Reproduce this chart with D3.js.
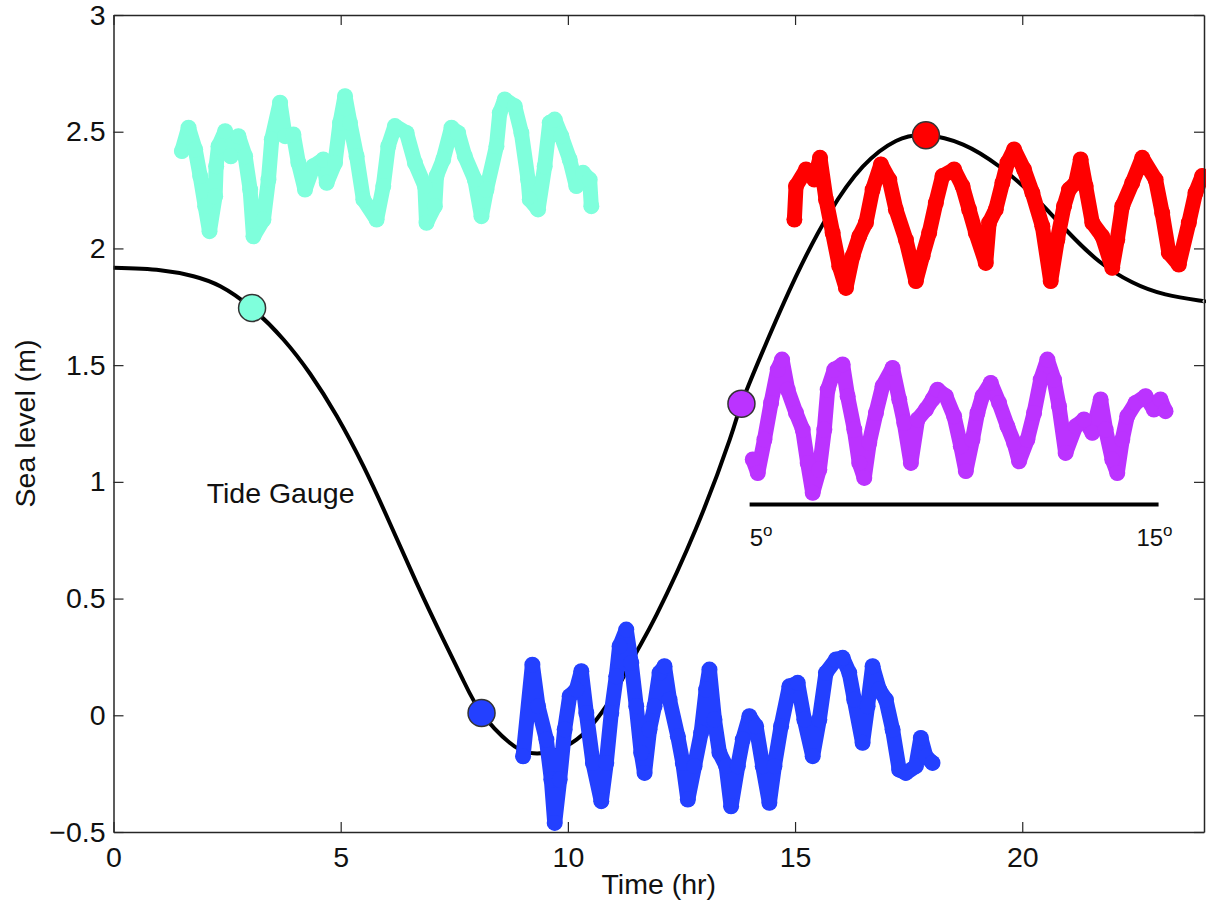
<!DOCTYPE html>
<html><head><meta charset="utf-8">
<script src="https://cdn.jsdelivr.net/npm/d3@7"></script>
<style>
html,body{margin:0;padding:0;background:#fff;}
svg{display:block;font-family:"Liberation Sans",Arial,Helvetica,sans-serif;}
</style></head>
<body>
<svg id="chart" width="1206" height="905"></svg>
<script>
// ---------------- data ----------------
const xTicks = [0, 5, 10, 15, 20];
const xTickLabels = ["0", "5", "10", "15", "20"];
const yTicks = [-0.5, 0, 0.5, 1, 1.5, 2, 2.5, 3];
const yTickLabels = ["\u22120.5", "0", "0.5", "1", "1.5", "2", "2.5", "3"];

const tideTime  = [0, 1.03, 1.76, 2.35, 3.04, 3.74, 4.33, 4.91, 5.50, 6.08, 6.67, 7.26, 7.69, 8.10, 8.72, 9.16, 9.67, 10.19, 10.63, 11.07, 11.50, 11.95, 12.82, 13.56, 13.81, 14.29, 15.02, 15.75, 16.49, 17.22, 17.88, 18.70, 19.49, 20.22, 20.96, 21.69, 22.42, 23.15, 23.89, 24];
const tideLevel = [1.917, 1.907, 1.881, 1.838, 1.745, 1.610, 1.462, 1.283, 1.067, 0.824, 0.567, 0.324, 0.153, 0.010, -0.118, -0.161, -0.154, -0.104, -0.018, 0.110, 0.267, 0.430, 0.800, 1.180, 1.330, 1.560, 1.880, 2.150, 2.350, 2.460, 2.485, 2.445, 2.352, 2.230, 2.080, 1.945, 1.855, 1.803, 1.777, 1.774];

const gaugeTime  = [3.05, 8.10, 13.82, 17.88];
const gaugeLevel = [1.745, 0.010, 1.335, 2.485];

const cyanTime  = [1.505, 1.651, 1.798, 1.908, 2.018, 2.113, 2.237, 2.259, 2.311, 2.457, 2.582, 2.750, 2.897, 3.007, 3.080, 3.300, 3.410, 3.483, 3.666, 3.776, 3.959, 4.069, 4.215, 4.398, 4.618, 4.692, 4.875, 4.985, 5.095, 5.204, 5.351, 5.498, 5.791, 5.937, 6.047, 6.193, 6.450, 6.633, 6.853, 6.889, 7.072, 7.109, 7.256, 7.439, 7.585, 7.732, 7.952, 8.098, 8.208, 8.428, 8.501, 8.611, 8.831, 8.977, 9.124, 9.161, 9.344, 9.490, 9.600, 9.710, 9.857, 10.040, 10.186, 10.333, 10.479, 10.516];
const cyanLevel = [2.417, 2.517, 2.424, 2.310, 2.181, 2.074, 2.224, 2.352, 2.438, 2.502, 2.395, 2.481, 2.395, 2.252, 2.052, 2.124, 2.295, 2.467, 2.624, 2.481, 2.488, 2.367, 2.252, 2.352, 2.381, 2.281, 2.367, 2.538, 2.652, 2.538, 2.395, 2.210, 2.124, 2.267, 2.438, 2.524, 2.495, 2.367, 2.267, 2.110, 2.181, 2.310, 2.381, 2.517, 2.495, 2.395, 2.295, 2.138, 2.252, 2.438, 2.581, 2.638, 2.609, 2.495, 2.295, 2.210, 2.167, 2.352, 2.538, 2.552, 2.481, 2.381, 2.267, 2.324, 2.295, 2.181];

const blueTime  = [9.014, 9.219, 9.343, 9.527, 9.636, 9.710, 9.820, 9.929, 10.039, 10.186, 10.296, 10.406, 10.552, 10.735, 10.845, 10.955, 11.065, 11.138, 11.285, 11.395, 11.505, 11.614, 11.688, 11.798, 11.907, 12.017, 12.127, 12.237, 12.420, 12.530, 12.640, 12.787, 12.933, 13.043, 13.116, 13.226, 13.336, 13.483, 13.592, 13.739, 13.849, 13.995, 14.142, 14.289, 14.435, 14.545, 14.692, 14.875, 15.058, 15.204, 15.388, 15.534, 15.680, 15.900, 16.047, 16.193, 16.303, 16.486, 16.596, 16.706, 16.853, 16.999, 17.146, 17.292, 17.438, 17.658, 17.768, 17.878, 18.025];
const blueLevel = [-0.176, 0.217, 0.039, -0.104, -0.275, -0.461, -0.275, -0.061, 0.082, 0.110, 0.189, 0.010, -0.204, -0.368, -0.204, 0.010, 0.167, 0.296, 0.367, 0.224, 0.039, -0.161, -0.247, -0.061, 0.039, 0.182, 0.210, 0.067, -0.090, -0.204, -0.361, -0.218, -0.075, 0.110, 0.196, -0.018, -0.161, -0.218, -0.390, -0.218, -0.104, -0.004, -0.047, -0.218, -0.375, -0.218, -0.047, 0.124, 0.139, -0.018, -0.175, -0.018, 0.182, 0.239, 0.246, 0.182, 0.067, -0.118, 0.039, 0.210, 0.110, 0.067, -0.061, -0.233, -0.247, -0.218, -0.097, -0.176, -0.204];

const purpleTime  = [14.069, 14.179, 14.326, 14.472, 14.619, 14.714, 14.838, 15.021, 15.168, 15.278, 15.388, 15.534, 15.644, 15.718, 15.864, 16.047, 16.157, 16.304, 16.413, 16.523, 16.633, 16.780, 16.926, 17.146, 17.293, 17.403, 17.549, 17.696, 17.879, 18.025, 18.135, 18.318, 18.501, 18.648, 18.758, 18.904, 19.014, 19.124, 19.307, 19.490, 19.674, 19.820, 19.930, 20.113, 20.260, 20.406, 20.553, 20.699, 20.809, 20.955, 21.175, 21.358, 21.542, 21.725, 21.835, 21.981, 22.091, 22.201, 22.311, 22.494, 22.714, 22.897, 23.043, 23.153];
const purpleLevel = [1.096, 1.038, 1.181, 1.338, 1.481, 1.524, 1.395, 1.295, 1.224, 1.081, 0.953, 1.053, 1.224, 1.395, 1.481, 1.503, 1.367, 1.224, 1.081, 1.017, 1.167, 1.295, 1.410, 1.488, 1.353, 1.253, 1.081, 1.267, 1.310, 1.353, 1.395, 1.367, 1.281, 1.153, 1.046, 1.181, 1.295, 1.367, 1.424, 1.338, 1.238, 1.167, 1.088, 1.181, 1.295, 1.438, 1.524, 1.438, 1.324, 1.124, 1.238, 1.267, 1.210, 1.353, 1.224, 1.096, 1.038, 1.181, 1.281, 1.338, 1.367, 1.310, 1.353, 1.303];

const redTime  = [14.985, 15.021, 15.241, 15.424, 15.549, 15.681, 15.827, 15.974, 16.120, 16.267, 16.413, 16.560, 16.707, 16.890, 17.073, 17.219, 17.439, 17.659, 17.805, 17.952, 18.098, 18.245, 18.501, 18.685, 18.831, 18.978, 19.197, 19.271, 19.417, 19.564, 19.674, 19.820, 20.040, 20.223, 20.443, 20.626, 20.773, 20.919, 21.029, 21.175, 21.285, 21.395, 21.542, 21.761, 21.981, 22.091, 22.201, 22.421, 22.641, 22.934, 23.080, 23.227, 23.446, 23.666, 23.813, 23.959];
const redLevel = [2.124, 2.267, 2.338, 2.295, 2.388, 2.210, 2.067, 1.924, 1.831, 1.967, 2.052, 2.110, 2.252, 2.360, 2.295, 2.167, 2.038, 1.860, 1.967, 2.067, 2.195, 2.310, 2.338, 2.267, 2.167, 2.067, 1.938, 2.110, 2.167, 2.281, 2.367, 2.424, 2.338, 2.238, 2.095, 1.860, 2.038, 2.181, 2.252, 2.281, 2.381, 2.267, 2.110, 2.052, 1.917, 2.038, 2.181, 2.281, 2.388, 2.295, 2.152, 1.981, 1.931, 2.110, 2.238, 2.310];

// scale bar (time range in hr, level) and labels
const barTime = [14.0, 23.0];
const barLevel = 0.903;
const barLabels = ["5", "15"];
const labelText = "Tide Gauge";
const labelPos = [2.05, 0.911];

// ---------------- layout ----------------
const svg = d3.select("#chart");
const m = {left: 113.5, right: 1204, top: 15, bottom: 832};
const x = d3.scaleLinear().domain([0, 24]).range([m.left, m.right]);
const y = d3.scaleLinear().domain([-0.5, 3]).range([m.bottom, m.top]);

const colors = {cyan: "#7fffdc", blue: "#2340ff", purple: "#bb33ff", red: "#ff0000"};
const FS = 28.5;
const axisColor = "#262626";

const zip = (a, b) => a.map((v, i) => [v, b[i]]);

// tide curve
const tideLine = d3.line().x(d => x(d[0])).y(d => y(d[1])).curve(d3.curveNatural);
svg.append("path").datum(zip(tideTime, tideLevel))
  .attr("d", tideLine).attr("fill", "none").attr("stroke", "#000").attr("stroke-width", 4);

// wiggly series
const wl = d3.line().x(d => x(d[0])).y(d => y(d[1]));
function band(t, v, c) {
  const g = svg.append("g");
  const data = zip(t, v);
  g.append("path").datum(data).attr("d", wl).attr("fill", "none")
    .attr("stroke", c).attr("stroke-width", 15).attr("stroke-linejoin", "round").attr("stroke-linecap", "round");
  g.selectAll("circle").data(data).join("circle")
    .attr("cx", d => x(d[0])).attr("cy", d => y(d[1])).attr("r", 8).attr("fill", c);
}
band(cyanTime, cyanLevel, colors.cyan);
band(blueTime, blueLevel, colors.blue);
band(purpleTime, purpleLevel, colors.purple);
band(redTime, redLevel, colors.red);

// gauge markers
const gaugeColors = [colors.cyan, colors.blue, colors.purple, colors.red];
svg.append("g").selectAll("circle").data(zip(gaugeTime, gaugeLevel)).join("circle")
  .attr("cx", d => x(d[0])).attr("cy", d => y(d[1])).attr("r", 13.5)
  .attr("fill", (d, i) => gaugeColors[i]).attr("stroke", "#333").attr("stroke-width", 1.5);

// scale bar
svg.append("line").attr("x1", x(barTime[0])).attr("x2", x(barTime[1]))
  .attr("y1", y(barLevel)).attr("y2", y(barLevel)).attr("stroke", "#000").attr("stroke-width", 4);
const bl = svg.append("g").attr("font-size", 24).attr("fill", "#111");
const t1 = bl.append("text").attr("x", x(barTime[0])).attr("y", y(barLevel) + 42);
t1.append("tspan").text(barLabels[0]);
t1.append("tspan").attr("dy", -10).attr("font-size", 17).text("o");
const t2 = bl.append("text").attr("x", x(barTime[1]) + 14).attr("y", y(barLevel) + 42).attr("text-anchor", "end");
t2.append("tspan").text(barLabels[1]);
t2.append("tspan").attr("dy", -10).attr("font-size", 17).text("o");

// label
svg.append("text").attr("x", x(labelPos[0])).attr("y", y(labelPos[1]))
  .attr("font-size", FS).attr("fill", "#111").text(labelText);

// axes
function styleAxis(g) {
  g.selectAll("path").attr("stroke", axisColor).attr("stroke-width", 1.5);
  g.selectAll("line").attr("stroke", axisColor).attr("stroke-width", 1.2);
  g.selectAll("text").attr("font-size", FS).attr("fill", "#111").attr("font-family", "Liberation Sans, Arial, sans-serif");
}
svg.append("g").attr("transform", `translate(0,${m.bottom})`)
  .call(d3.axisBottom(x).tickValues(xTicks).tickFormat((d, i) => xTickLabels[i]).tickSizeInner(-10).tickSizeOuter(0).tickPadding(15))
  .call(styleAxis);
svg.append("g").attr("transform", `translate(0,${m.top})`)
  .call(d3.axisTop(x).tickValues(xTicks).tickFormat("").tickSizeInner(-10).tickSizeOuter(0))
  .call(styleAxis);
svg.append("g").attr("transform", `translate(${m.left},0)`)
  .call(d3.axisLeft(y).tickValues(yTicks).tickFormat((d, i) => yTickLabels[i]).tickSizeInner(-10).tickSizeOuter(0).tickPadding(8))
  .call(styleAxis);
svg.append("g").attr("transform", `translate(${m.right},0)`)
  .call(d3.axisRight(y).tickValues(yTicks).tickFormat("").tickSizeInner(-10).tickSizeOuter(0))
  .call(styleAxis);

// axis titles
svg.append("text").attr("x", (m.left + m.right) / 2).attr("y", 894).attr("text-anchor", "middle")
  .attr("font-size", FS).attr("fill", "#111").text("Time (hr)");
svg.append("text").attr("transform", `translate(35,${(m.top + m.bottom) / 2}) rotate(-90)`)
  .attr("text-anchor", "middle").attr("font-size", FS).attr("fill", "#111").text("Sea level (m)");
</script>
</body></html>
